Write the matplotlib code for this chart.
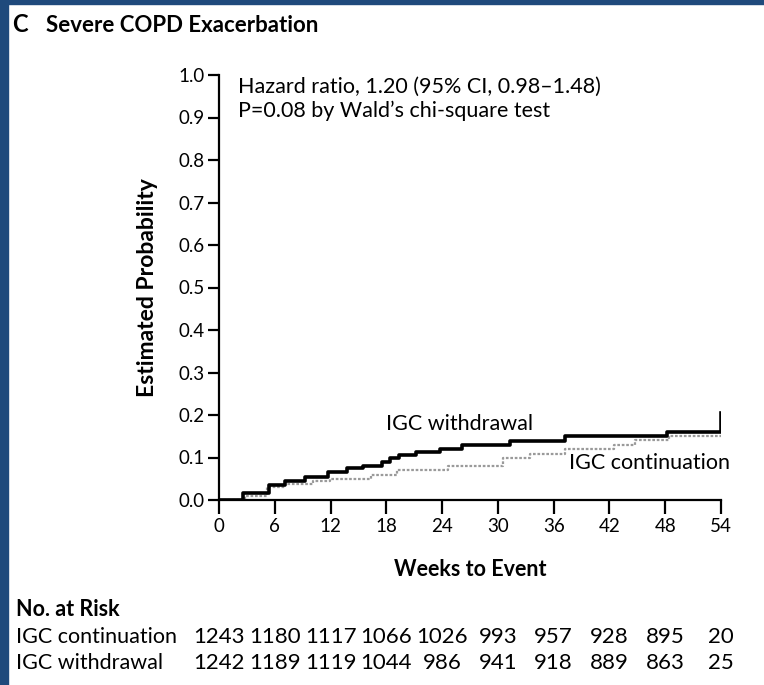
import matplotlib.pyplot as plt
import matplotlib.patches as patches
import matplotlib.transforms as mtransforms

# Kaplan-Meier style step curves (weeks, cumulative probability)
withdrawal_weeks = [0, 2.6, 5.4, 7.1, 9.3, 11.7, 13.8, 15.5, 17.5, 18.4, 19.4, 21.2, 23.8, 26.1, 31.3, 37.2, 48.2, 54]
withdrawal_prob = [0.0, 0.017, 0.035, 0.045, 0.055, 0.065, 0.075, 0.079, 0.089, 0.098, 0.106, 0.114, 0.121, 0.130, 0.140, 0.151, 0.160, 0.204]

continuation_weeks = [0, 2.8, 5.2, 7.1, 10.1, 11.9, 16.4, 19.2, 24.6, 30.5, 33.5, 37.2, 42.5, 44.7, 48.4, 54]
continuation_prob = [0.0, 0.010, 0.030, 0.037, 0.045, 0.050, 0.060, 0.071, 0.079, 0.098, 0.109, 0.119, 0.130, 0.142, 0.151, 0.151]

x_ticks = [0, 6, 12, 18, 24, 30, 36, 42, 48, 54]
y_ticks = [0.0, 0.1, 0.2, 0.3, 0.4, 0.5, 0.6, 0.7, 0.8, 0.9, 1.0]

risk_groups = ["IGC continuation", "IGC withdrawal"]
risk_continuation = ["1243", "1180", "1117", "1066", "1026", "993", "957", "928", "895", "20"]
risk_withdrawal = ["1242", "1189", "1119", "1044", "986", "941", "918", "889", "863", "25"]

narrow = ['Liberation Sans Narrow', 'Lato', 'DejaVu Sans']
plt.rcParams['font.family'] = ['Lato', 'DejaVu Sans']
W, H = 764, 685
fig = plt.figure(figsize=(W / 100, H / 100), dpi=100)
fig.patch.set_facecolor('white')

# dark blue frame of the page
blue = '#1f4a7c'
fig.add_artist(patches.Rectangle((0, 1 - 4 / H), 1, 4 / H, transform=fig.transFigure, color=blue, zorder=0))
fig.add_artist(patches.Rectangle((0, 0), 8 / W, 1, transform=fig.transFigure, color=blue, zorder=0))

ax = fig.add_axes([219 / W, (H - 500) / H, (721 - 219) / W, (500 - 75) / H])
ax.step(continuation_weeks, continuation_prob, where='post', color='#9a9a9a', lw=1.6, ls=(0, (1.2, 0.8)))
ax.step(withdrawal_weeks, withdrawal_prob, where='post', color='black', lw=2.6)

ax.set_xlim(0, 54)
ax.set_ylim(0, 1.0)
ax.set_xticks(x_ticks)
ax.set_yticks(y_ticks)
ax.set_yticklabels([f"{v:.1f}" for v in y_ticks])
for s in ['top', 'right']:
    ax.spines[s].set_visible(False)
for s in ['left', 'bottom']:
    ax.spines[s].set_linewidth(1.6)
ax.tick_params(axis='both', direction='out', length=8, width=1.6, labelsize=13.5, colors='black', pad=2)
ax.tick_params(axis='x', length=10, pad=3)
ax.set_xlabel("Weeks to Event", fontsize=15.5, fontweight='bold', labelpad=17)
ax.set_ylabel("Estimated Probability", fontsize=16.5, fontweight='bold', labelpad=15)

ax.text(2.0, 0.995, "Hazard ratio, 1.20 (95% CI, 0.98\u20131.48)\nP=0.08 by Wald\u2019s chi-square test",
        fontsize=15.5, va='top', ha='left', linespacing=1.2)
ax.text(18.0, 0.178, "IGC withdrawal", fontsize=15.5, va='center', ha='left')
ax.text(37.6, 0.088, "IGC continuation", fontsize=15.5, va='center', ha='left')

fig.text(12 / W, 1 - 25 / H, "C", fontsize=17, fontweight='bold', va='center', ha='left')
fig.text(46 / W, 1 - 25 / H, "Severe COPD Exacerbation", fontsize=16, fontweight='bold', va='center', ha='left')

# number at risk table, columns sit under the week ticks
fig.text(16 / W, 1 - 610 / H, "No. at Risk", fontsize=15.5, fontweight='bold', va='center', ha='left')
trans = mtransforms.blended_transform_factory(ax.transData, fig.transFigure)
for row, (name, vals) in enumerate(zip(risk_groups, [risk_continuation, risk_withdrawal])):
    y = 1 - (637 + row * 26) / H
    fig.text(16 / W, y, name, fontsize=15.5, va='center', ha='left')
    for wk, v in zip(x_ticks, vals):
        ax.text(wk, y, v, transform=trans, fontsize=16, family=narrow, va='center', ha='center')

fig.savefig('out.png', dpi=100)
